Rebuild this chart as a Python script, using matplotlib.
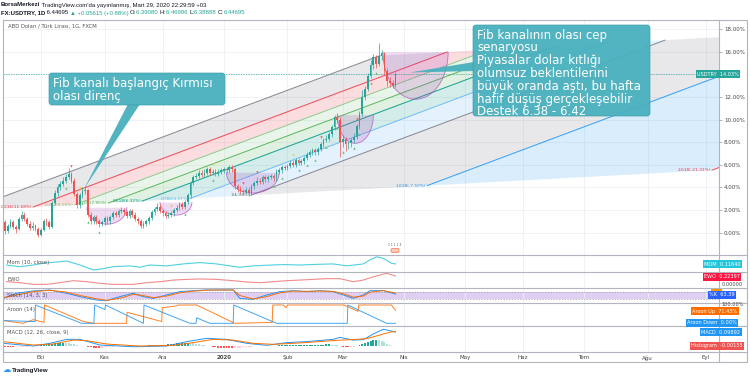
import numpy as np
import pandas as pd
import matplotlib
matplotlib.use("Agg")
import matplotlib.pyplot as plt
from matplotlib.patches import Polygon, FancyBboxPatch

W, H = 750, 378

# daily candles, % change vs first visible bar (FX:USDTRY, 12 Sep 2019 - 27 Mar 2020)
first_open = 0.9
closes = [0.1, 0.6, 0.9, 0.5, 0.3, 1.2, 1.6, 1.2, 0.8, 0.4,
          0.6, 0.3, -0.2, 0.2, 1.0, 0.9, 0.5, 2.6, 3.5, 4.0,
          4.3, 4.6, 4.9, 5.2, 4.6, 3.4, 2.4, 3.3, 3.7, 3.8,
          1.6, 1.0, 1.4, 1.0, 0.8, 0.9, 1.3, 1.0, 1.4, 1.7,
          1.6, 1.9, 2.0, 1.8, 1.5, 1.9, 1.6, 1.2, 1.0, 0.6,
          0.8, 1.0, 1.3, 1.8, 2.1, 2.3, 1.9, 1.7, 1.5, 1.6,
          1.7, 2.0, 2.2, 2.5, 2.3, 2.7, 3.3, 4.4, 4.9, 5.0,
          5.3, 5.1, 5.3, 5.6, 5.3, 5.4, 5.2, 5.4, 5.5, 5.6,
          5.5, 5.8, 5.6, 4.1, 3.9, 3.7, 3.6, 3.8, 3.5, 4.1,
          4.4, 4.6, 4.5, 4.9, 4.7, 4.9, 5.0, 4.8, 5.4, 5.5,
          5.8, 5.7, 5.9, 6.2, 6.0, 6.4, 6.2, 6.3, 6.6, 6.9,
          7.1, 7.3, 7.1, 7.4, 7.8, 8.2, 8.3, 8.7, 9.3, 10.2,
          10.0, 8.0, 8.3, 7.8, 7.9, 8.2, 8.5, 9.4, 10.5, 12.0,
          12.7, 13.9, 14.8, 15.5, 14.9, 15.6, 15.9, 14.3, 13.4, 13.2,
          13.1, 14.03]
highs = [1.1, 0.8, 1.2, 1.1, 0.7, 1.4, 1.9, 1.8, 1.4, 1.0,
         0.9, 0.8, 0.5, 0.4, 1.2, 1.3, 1.1, 2.8, 3.8, 4.3,
         4.6, 4.9, 5.2, 5.7, 5.4, 4.8, 3.6, 3.5, 4.0, 4.1,
         3.9, 1.8, 1.6, 1.6, 1.2, 1.1, 1.5, 1.5, 1.6, 1.9,
         1.9, 2.1, 2.3, 2.2, 2.0, 2.1, 2.1, 1.8, 1.4, 1.2,
         1.0, 1.2, 1.5, 2.0, 2.3, 2.6, 2.5, 2.1, 1.9, 1.8,
         1.9, 2.2, 2.4, 2.7, 2.7, 2.9, 3.5, 4.6, 5.1, 5.3,
         5.5, 5.5, 5.6, 5.8, 5.8, 5.6, 5.6, 5.6, 5.7, 5.8,
         5.8, 6.0, 6.0, 5.8, 4.3, 4.1, 3.9, 4.0, 4.0, 4.3,
         4.6, 4.9, 4.8, 5.1, 5.1, 5.1, 5.2, 5.2, 5.6, 5.7,
         6.0, 6.0, 6.1, 6.4, 6.4, 6.6, 6.6, 6.5, 6.8, 7.1,
         7.3, 7.5, 7.5, 7.6, 8.0, 8.4, 8.6, 8.9, 9.5, 10.4,
         10.6, 10.2, 8.6, 8.5, 8.1, 8.4, 8.8, 9.6, 10.8, 12.6,
         13.0, 14.1, 15.3, 15.8, 15.7, 16.8, 16.2, 16.0, 14.6, 13.8,
         13.5, 14.2]
lows = [-0.1, 0.0, 0.4, 0.3, 0.0, 0.2, 1.0, 1.0, 0.6, 0.2,
        0.2, 0.1, -0.4, -0.3, 0.1, 0.6, 0.3, 0.4, 2.4, 3.2,
        3.8, 4.1, 4.4, 4.7, 4.4, 3.2, 2.2, 2.2, 3.1, 3.4,
        1.4, 0.8, 0.8, 0.8, 0.5, 0.6, 0.7, 0.8, 0.8, 1.2,
        1.4, 1.4, 1.7, 1.6, 1.3, 1.3, 1.4, 1.0, 0.8, 0.4,
        0.4, 0.6, 0.8, 1.1, 1.6, 1.9, 1.7, 1.5, 1.3, 1.3,
        1.4, 1.5, 1.8, 2.0, 2.1, 2.1, 2.5, 3.1, 4.2, 4.7,
        4.8, 4.9, 4.9, 5.1, 5.1, 5.1, 5.0, 5.0, 5.2, 5.3,
        5.3, 5.3, 5.4, 3.9, 3.6, 3.4, 3.3, 3.4, 3.2, 3.3,
        3.9, 4.2, 4.3, 4.3, 4.5, 4.5, 4.7, 4.6, 4.6, 5.2,
        5.3, 5.5, 5.5, 5.7, 5.8, 5.8, 6.0, 6.0, 6.1, 6.4,
        6.7, 6.9, 6.9, 6.9, 7.2, 7.6, 8.0, 8.1, 8.5, 9.1,
        9.7, 6.7, 7.6, 7.2, 7.4, 7.6, 7.9, 8.3, 9.2, 10.3,
        11.7, 12.5, 13.7, 14.5, 14.6, 14.7, 15.3, 14.0, 13.0, 12.9,
        12.8, 12.9]
last_pct = 14.03

# signal markers (bar indices)
up_marks = [22, 28, 30, 34, 65, 75, 83, 97, 100, 106, 109, 112, 116, 120, 122, 126, 128, 132, 134]
down_marks = [24, 86, 91, 114, 127]
yellow_marks = [27, 60, 75, 104]

# fib channel anchors (bar, pct) and levels
fib_p1 = (-14.1, 1.94)
fib_p2 = (135.4, 15.66)
fib_p3 = (88.8, 3.31)
fib_levels = [0, 0.236, 0.382, 0.5, 0.618, 0.786, 1, 1.618, 2.618]
fib_colors = ["#787b86", "#f23645", "#81c784", "#4caf50", "#009688",
              "#64b5f6", "#787b86", "#2196f3", "#f23645"]
fib_labels = ["", "0.236(11.68%)", "0.382(9.58%)", "0.5(7.95%)", "0.618(6.32%)",
              "0.786(4.01%)", "1(1.04%)", "1.618(-7.50%)", "2.618(-21.31%)"]

# cup arcs: left bar, right bar, rim pct, bottom pct
cups = [(29.6, 44.0, 2.2, 0.75), (56.0, 67.5, 2.65, 1.55), (80.0, 99.0, 5.3, 3.5),
        (120.0, 133.0, 10.4, 7.9), (136.5, 160.0, 15.95, 11.8)]

mom_x = [0.6, 5.4, 10.2, 13.8, 19.9, 22.3, 27.1, 31.9, 34.3, 39.1, 45.1, 48.7, 52.3, 58.4,
         64.4, 70.4, 76.4, 81.2, 84.8, 89.6, 94.5, 100.5, 106.5, 112.5, 118.5, 123.4,
         129.4, 131.8, 134.2, 136.6, 139.6, 141]
mom_y = [0.07, -0.005, 0.07, 0.15, 0.22, 0.25, 0.07, -0.15, -0.12, -0.005, 0.03, -0.03, 0.07,
         0.03, 0.12, 0.18, 0.12, 0.03, -0.03, 0.03, 0.06, 0.09, 0.07, 0.10, 0.12, 0.03,
         0.12, 0.30, 0.44, 0.37, 0.15, 0.1164]
ewo_x = [0.6, 5.4, 10.2, 15.0, 19.9, 24.7, 29.5, 34.3, 39.1, 46.3, 51.2, 56.0, 60.8, 65.6,
         70.4, 76.4, 82.4, 87.3, 92.1, 96.9, 101.7, 106.5, 111.3, 116.1, 120.9, 125.7,
         129.4, 133.0, 137.8, 141]
ewo_y = [0.065, 0.037, -0.01, -0.01, 0.037, 0.093, 0.065, 0.019, -0.01, -0.01, 0.037, 0.065,
         0.11, 0.13, 0.14, 0.13, 0.093, 0.056, 0.037, 0.065, 0.093, 0.11, 0.13, 0.15, 0.15,
         0.065, 0.11, 0.20, 0.30, 0.224]
stoch_x = [-0.6, 4.2, 10.2, 16.2, 22.3, 27.1, 33.1, 36.7, 41.5, 46.3, 49.9, 53.5, 58.4, 63.2,
           68.0, 72.8, 77.6, 82.4, 84.8, 89.6, 94.5, 99.3, 104.1, 108.9, 113.7, 118.5,
           122.2, 125.8, 129.4, 131.8, 136.6, 141]
stoch_k = [24, 70, 91, 100, 70, 40, 9, 3, 40, 70, 40, 24, 55, 85, 94, 100, 100, 100, 24, 15,
           55, 85, 94, 85, 94, 85, 55, 24, 55, 94, 94, 63]
stoch_d = [30, 55, 85, 97, 80, 50, 20, 6, 25, 60, 50, 30, 45, 75, 90, 98, 100, 100, 50, 18,
           40, 75, 90, 88, 90, 88, 65, 35, 45, 80, 94, 72]
aroon_dn_x = [-0.6, 10.2, 10.9, 11.0, 27.7, 32.1, 32.4, 36.1, 36.3, 50.0, 50.2, 66.8, 69.0,
              69.2, 74.0, 82.4, 82.6, 98.1, 123.6, 123.8, 137.8, 141]
aroon_dn_y = [15, 10, 10, 100, 0, 0, 100, 75, 100, 0, 100, 0, 0, 30, 0, 0, 100, 0, 0, 100, 0, 0]
aroon_up_x = [-0.6, 6.6, 10.2, 14.1, 14.3, 28.3, 31.9, 43.9, 44.1, 56.6, 56.8, 61.9, 62.6,
              69.2, 83.0, 96.5, 96.7, 100.5, 101.5, 102.0, 122.5, 127.5, 127.7, 139.5, 141]
aroon_up_y = [15, 0, 20, 5, 100, 10, 0, 0, 60, 10, 85, 95, 100, 100, 0, 5, 100, 100, 85, 100,
              100, 65, 100, 100, 71.43]
macd_x = [-0.6, 10.2, 16.2, 22.3, 27.1, 34.3, 46.3, 58.4, 65.6, 72.8, 80.0, 87.3, 94.5,
          101.7, 108.9, 118.5, 120.9, 125.7, 129.4, 133.0, 136.6, 139.0, 141]
macd_y = [0.019, 0.0, 0.019, 0.047, 0.047, 0.007, -0.005, 0.0, 0.031, 0.054, 0.047, 0.019,
          0.005, 0.024, 0.031, 0.047, 0.061, 0.042, 0.045, 0.085, 0.118, 0.108, 0.0989]
signal_x = [-0.6, 10.2, 17.4, 24.7, 29.5, 36.7, 48.7, 60.8, 68.0, 75.2, 82.4, 89.6, 96.9,
            104.1, 111.3, 119.7, 126.9, 130.6, 135.4, 139.6, 141]
signal_y = [0.031, 0.007, 0.014, 0.042, 0.038, 0.014, 0.0, 0.005, 0.024, 0.047, 0.042, 0.019,
            0.012, 0.019, 0.028, 0.040, 0.047, 0.052, 0.078, 0.101, 0.1004]
hist = [-0.008, -0.009, -0.010, -0.010, -0.009, -0.008, -0.007, -0.006, -0.004, -0.003,
        -0.002, 0.000, 0.002, 0.004, 0.006, 0.009, 0.012, 0.015, 0.018, 0.021,
        0.023, 0.024, 0.022, 0.019, 0.015, 0.011, 0.007, 0.003, 0.000, -0.003,
        -0.006, -0.009, -0.011, -0.012, -0.012, -0.011, -0.009, -0.007, -0.005, -0.004,
        -0.003, -0.002, -0.002, -0.001, -0.001, 0.000, 0.001, 0.001, 0.002, 0.002,
        0.002, 0.003, 0.004, 0.005, 0.006, 0.007, 0.008, 0.009, 0.010, 0.012,
        0.014, 0.016, 0.018, 0.020, 0.021, 0.022, 0.022, 0.021, 0.019, 0.016,
        0.012, 0.008, 0.004, 0.001, -0.002, -0.005, -0.008, -0.011, -0.013, -0.015,
        -0.016, -0.017, -0.017, -0.016, -0.014, -0.012, -0.010, -0.008, -0.006, -0.004,
        -0.003, -0.002, -0.001, 0.000, 0.001, 0.002, 0.002, 0.003, 0.003, 0.004,
        0.004, 0.004, 0.005, 0.005, 0.005, 0.006, 0.006, 0.006, 0.007, 0.007,
        0.008, 0.008, 0.009, 0.009, 0.010, 0.010, 0.011, 0.011, 0.010, 0.008,
        0.004, -0.002, -0.006, -0.008, -0.008, -0.007, -0.005, -0.002, 0.004, 0.012,
        0.020, 0.028, 0.035, 0.040, 0.042, 0.040, 0.034, 0.025, 0.015, 0.007,
        0.002, -0.00155]

month_names = ["Eki", "Kas", "Ara", "2020", "Şub", "Mar", "Nis", "May", "Haz", "Tem", "Ağu", "Eyl"]

# ---------------------------------------------------------------
dates = pd.bdate_range("2019-09-12", periods=259)
month_idx = [i for i in range(1, len(dates)) if dates[i].month != dates[i - 1].month]
month_idx = month_idx[:len(month_names)]

n = len(closes)
xb = np.arange(n)
opens = [first_open] + closes[:-1]
xlim = (-0.7, 257.8)

fig = plt.figure(figsize=(W / 100, H / 100), dpi=100)
fig.patch.set_facecolor("white")


def pane(x0, y0, x1, y1):
    a = fig.add_axes([x0 / W, 1 - y1 / H, (x1 - x0) / W, (y1 - y0) / H])
    a.set_xlim(*xlim)
    for s in a.spines.values():
        s.set_visible(False)
    a.set_xticks(month_idx)
    a.tick_params(axis="x", length=0, labelbottom=False)
    a.set_yticks([])
    a.grid(True, axis="x", color="#edf0f5", lw=0.6)
    a.set_axisbelow(True)
    return a


ax = pane(3, 20, 719, 255)
ax.set_ylim(-1.98, 18.81)
yt = np.arange(0, 19, 2)
ax.set_yticks(yt)
# the 14.00% label sits under the last-price tag
ax.set_yticklabels(["" if v == 14 else f"{v:.2f}%" for v in yt])
ax.yaxis.tick_right()
ax.tick_params(axis="y", length=2, width=0.5, color="#999", labelsize=4, labelcolor="#444", pad=1.5)
ax.grid(True, axis="y", color="#edf0f5", lw=0.6)

# fib channel
p1 = np.array(fib_p1)
base = np.array(fib_p2) - p1
wid = np.array(fib_p3) - p1
starts = [p1 + k * wid for k in fib_levels]
ends = [s + base for s in starts]
for k in range(len(fib_levels) - 1):
    poly = Polygon([starts[k], ends[k], ends[k + 1], starts[k + 1]], closed=True,
                   fc=fib_colors[k], ec="none", alpha=0.17, zorder=1)
    ax.add_patch(poly)
for k in range(len(fib_levels)):
    ax.plot([starts[k][0], ends[k][0]], [starts[k][1], ends[k][1]], color=fib_colors[k],
            lw=0.7, alpha=0.9, zorder=2)
    if fib_labels[k]:
        ax.text(starts[k][0] - 0.3, starts[k][1], fib_labels[k], color=fib_colors[k],
                fontsize=3.1, ha="right", va="center", zorder=3)

# cups
t = np.linspace(0, np.pi, 50)
for xl, xr, top, bot in cups:
    cx, a = (xl + xr) / 2, (xr - xl) / 2
    pts = np.column_stack([cx + a * np.cos(t), top - (top - bot) * np.sin(t)])
    ax.add_patch(Polygon(pts, closed=True, fc="#ab47bc", ec="none", alpha=0.2, zorder=2))
    ax.plot(pts[:, 0], pts[:, 1], color="#ab47bc", lw=0.6, alpha=0.7, zorder=2)

# candles
cols = ["#26a69a" if c >= o else "#ef5350" for o, c in zip(opens, closes)]
ax.vlines(xb, lows, highs, colors=cols, lw=0.5, zorder=4)
body = [max(abs(c - o), 0.06) for o, c in zip(opens, closes)]
ax.bar(xb, body, bottom=np.minimum(opens, closes), width=0.62, color=cols, zorder=5)

ax.axhline(last_pct, color="#26a69a", lw=0.6, ls=(0, (1.5, 1.5)), alpha=0.8, zorder=3)

ax.scatter(up_marks, [lows[i] - 0.45 for i in up_marks], marker="^", s=3, color="#66bb6a", zorder=6, lw=0)
ax.scatter(down_marks, [highs[i] + 0.45 for i in down_marks], marker="v", s=3, color="#ef5350", zorder=6, lw=0)
ax.scatter(yellow_marks, [highs[i] + 0.45 for i in yellow_marks], marker="v", s=3, color="#fbc02d", zorder=6, lw=0)

# Momentum
a_mom = pane(3, 255, 719, 272)
a_mom.plot(mom_x, mom_y, color="#4dd0e1", lw=0.8)
a_mom.set_ylim(-0.244, 0.521)

# EWO
a_ewo = pane(3, 272, 719, 288)
a_ewo.plot(ewo_x, ewo_y, color="#f28b8b", lw=0.8)
a_ewo.set_ylim(-0.112, 0.336)

# Stochastic
a_st = pane(3, 288, 719, 303)
a_st.set_ylim(-18, 118)
a_st.axhspan(20, 80, color="#d9c2f0", alpha=0.8, lw=0, zorder=0)
for lv in (20, 80):
    a_st.axhline(lv, color="#9e9e9e", lw=0.5, ls=(0, (2, 2)))
a_st.plot(stoch_x, stoch_k, color="#2196f3", lw=0.7)
a_st.plot(stoch_x, stoch_d, color="#ff6d00", lw=0.7)

# Aroon
a_ar = pane(3, 303, 719, 326)
a_ar.set_ylim(-14.6, 111)
a_ar.plot(aroon_up_x, aroon_up_y, color="#ff6d00", lw=0.7, alpha=0.85)
a_ar.plot(aroon_dn_x, aroon_dn_y, color="#2196f3", lw=0.7, alpha=0.85)

# MACD
a_m = pane(3, 326, 719, 352)
a_m.set_ylim(-0.042, 0.141)
hcols = []
for i, v in enumerate(hist):
    prev = hist[i - 1] if i > 0 else v
    if v >= 0:
        hcols.append("#26a69a" if v >= prev else "#b2dfdb")
    else:
        hcols.append("#ff5252" if v <= prev else "#ffcdd2")
a_m.bar(xb, hist, width=0.7, color=hcols)
a_m.plot(macd_x, macd_y, color="#2196f3", lw=0.7)
a_m.plot(signal_x, signal_y, color="#ff6d00", lw=0.7)
a_m.tick_params(axis="x", labelbottom=True, labelsize=4, labelcolor="#444", pad=2.5)
a_m.set_xticklabels(month_names)
for lbl in a_m.get_xticklabels():
    if lbl.get_text() == "2020":
        lbl.set_fontweight("bold")

# ---------------------------------------------------------------
ov = fig.add_axes([0, 0, 1, 1], zorder=10)
ov.set_xlim(0, W)
ov.set_ylim(H, 0)
ov.axis("off")
ov.patch.set_alpha(0)

frame = "#b2b5be"
ov.plot([3, 747, 747, 3, 3], [20, 20, 362, 362, 20], color=frame, lw=0.8)
ov.plot([719, 719], [20, 362], color=frame, lw=0.8)
for yy in (255, 272, 288, 303, 326, 352):
    ov.plot([3, 747], [yy, yy], color=frame, lw=0.8)

rend = fig.canvas.get_renderer()


def seq_text(x, y, parts, size):
    for s, color, weight in parts:
        tt = ov.text(x, y, s, fontsize=size, color=color, fontweight=weight, va="center",
                     ha="left", family="Liberation Sans")
        x += tt.get_window_extent(renderer=rend).width


teal = "#26a69a"
seq_text(1, 5, [("BorsaMerkezi", "#131722", "bold"),
                (" TradingView.com'da yayınlanmış, Mart 29, 2020 22:29:59 +03", "#131722", "normal")], 4.3)
seq_text(1, 13, [("FX:USDTRY, 1D", "#131722", "bold"), (" 6.44695 ", "#131722", "normal"),
                 ("▲ +0.05615 (+0.88%) ", teal, "normal"), ("O:", "#131722", "normal"),
                 ("6.39080 ", teal, "normal"), ("H:", "#131722", "normal"),
                 ("6.46986 ", teal, "normal"), ("L:", "#131722", "normal"),
                 ("6.38888 ", teal, "normal"), ("C:", "#131722", "normal"),
                 ("6.44695", teal, "normal")], 4.3)
ov.text(8, 26, "ABD Doları / Türk Lirası, 1G, FXCM", fontsize=3.8, color="#555", va="center")

for txt, yy in [("Mom (10, close)", 262.5), ("EWO", 279.5), ("Stoch (14, 3, 3)", 295),
                ("Aroon (14)", 309), ("MACD (12, 26, close, 9)", 332.5)]:
    ov.text(7, yy, txt, fontsize=3.8, color="#555", va="center")


# right-hand value labels
def tag(x, y, s, fc):
    ov.text(x, y, s, fontsize=3.6, color="white", va="center", ha="left",
            bbox=dict(boxstyle="square,pad=0.3", fc=fc, ec="none"))


tag(697, 74, "USDTRY  14.03%", "#26a69a")
tag(704, 264, "MOM  0.11640", "#26c6da")
tag(704, 277, "EWO  0.22397", "#ff1744")
ov.text(722, 284, "0.00000", fontsize=3.6, color="#444", va="center")
tag(712, 293.2, "     ", "#ff9800")
tag(709, 294.5, "%K  63.39", "#2962ff")
ov.text(722, 305, "100.00%", fontsize=3.6, color="#444", va="center")
tag(692, 311, "Aroon Up  71.43%", "#ff6d00")
tag(687, 323, "Aroon Down  0.00%", "#2196f3")
tag(701, 332, "MACD  0.09892", "#2196f3")
tag(691, 346, "Histogram  -0.00155", "#ef5350")

# event badge
ov.add_patch(FancyBboxPatch((391, 248.5), 8, 4, boxstyle="round,pad=0,rounding_size=1.5",
                            fc="#ffccbc", ec="#ff7043", lw=0.5))
ov.text(395, 245.5, "1 1 1 1 3", fontsize=2.2, color="#555", ha="center", va="center")

# callouts
box_c = "#4ab0be"
ov.add_patch(Polygon([(128, 104), (140, 104), (84, 189)], closed=True, fc=box_c, ec="none", alpha=0.95))
ov.add_patch(FancyBboxPatch((49, 73), 176, 32, boxstyle="round,pad=0,rounding_size=3",
                            fc=box_c, ec="#3e9eab", lw=0.5, alpha=0.95))
ov.text(53, 77, "Fib kanalı başlangıç Kırmısı\nolası direnç", fontsize=8.5, color="white",
        va="top", ha="left", linespacing=1.02)

ov.add_patch(Polygon([(474, 62), (474, 71), (410, 72.5)], closed=True, fc=box_c, ec="none", alpha=0.95))
ov.add_patch(FancyBboxPatch((473, 25), 177, 91, boxstyle="round,pad=0,rounding_size=3",
                            fc=box_c, ec="#3e9eab", lw=0.5, alpha=0.95))
ov.text(477, 28.5, "Fib kanalının olası cep\nsenaryosu\nPiyasalar dolar kıtlığı\n"
        "olumsuz beklentilerini\nbüyük oranda aştı, bu hafta\nhafif düşüş gerçekleşebilir\n"
        "Destek 6.38 - 6.42", fontsize=8.5, color="white", va="top", ha="left", linespacing=0.98)

# TradingView logo
ov.text(3, 370, "☁", fontsize=6, color="#2196f3", va="center", ha="left")
ov.text(12, 370.5, "TradingView", fontsize=4.5, color="#131722", va="center", ha="left",
        fontweight="bold", family="Liberation Sans")

fig.savefig("out.png", dpi=100)
